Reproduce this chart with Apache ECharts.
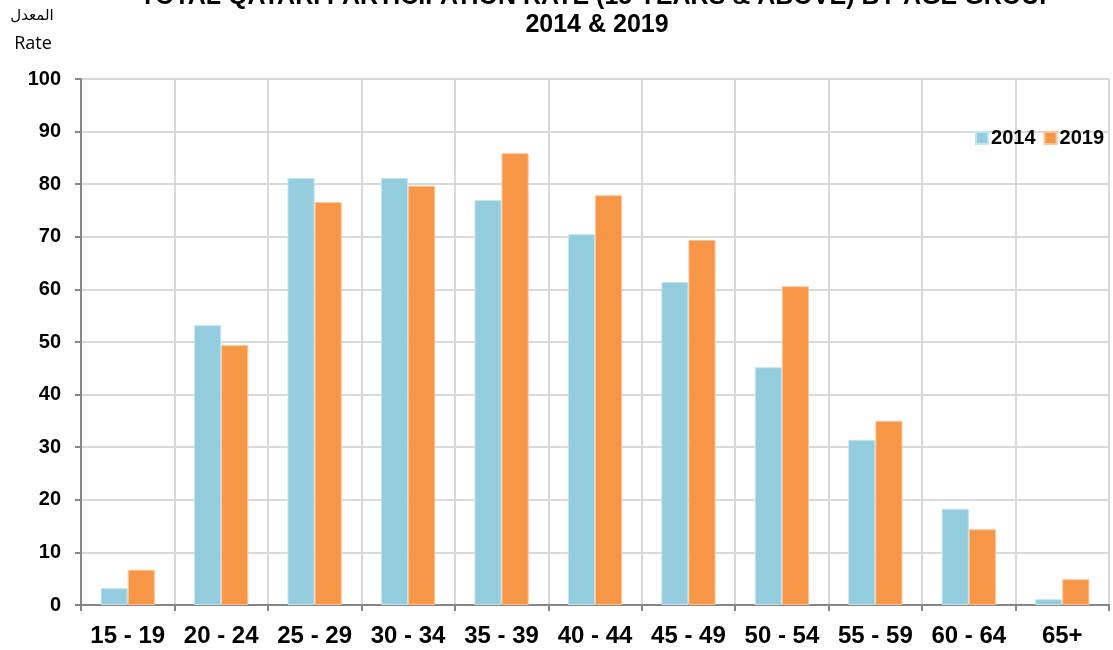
<!DOCTYPE html>
<html>
<head>
<meta charset="utf-8">
<title>Qatari participation rate</title>
<script src="https://cdn.jsdelivr.net/npm/echarts@6/dist/echarts.min.js"></script>
<style>
  html, body { margin: 0; padding: 0; background: #fff; }
  #chart { width: 1113px; height: 650px; }
</style>
</head>
<body>
<div id="chart"></div>
<script>
// data
var ageGroups = ['15 - 19', '20 - 24', '25 - 29', '30 - 34', '35 - 39', '40 - 44', '45 - 49', '50 - 54', '55 - 59', '60 - 64', '65+'];
var rate2014 = [3.2, 53.2, 81.2, 81.2, 77.0, 70.5, 61.4, 45.2, 31.4, 18.3, 1.1];
var rate2019 = [6.7, 49.4, 76.6, 79.7, 85.9, 77.9, 69.4, 60.6, 35.0, 14.4, 4.9];
var yTicks = [0, 10, 20, 30, 40, 50, 60, 70, 80, 90, 100];

var chart = echarts.init(document.getElementById('chart'));
var font = 'Liberation Sans, Arial, sans-serif';

var option = {
  animation: false,
  graphic: [
    { type: 'text', x: 598, y: -3, style: { text: 'TOTAL QATARI PARTICIPATION RATE (15 YEARS & ABOVE) BY AGE GROUP', font: 'bold 25px ' + font, fill: '#000', align: 'center', verticalAlign: 'middle' } },
    { type: 'text', x: 597, y: 25, style: { text: '2014 & 2019', font: 'bold 25px ' + font, fill: '#000', align: 'center', verticalAlign: 'middle' } },
    { type: 'text', x: 32, y: 16, style: { text: 'المعدل', font: '15px "DejaVu Sans", sans-serif', fill: '#000', align: 'center', verticalAlign: 'middle' } },
    { type: 'text', x: 33, y: 44, style: { text: 'Rate', font: '18px "Open Sans", ' + font, fill: '#000', align: 'center', verticalAlign: 'middle' } }
  ],
  legend: {
    right: 4, top: 123,
    itemWidth: 12, itemHeight: 12, itemGap: 8,
    icon: 'rect',
    textStyle: { fontFamily: font, fontWeight: 'bold', fontSize: 20, color: '#000', padding: [0, 0, 0, -2] },
    data: ['2014', '2019']
  },
  grid: { left: 81, right: 4, top: 79, bottom: 45, containLabel: false },
  xAxis: {
    type: 'category',
    data: ageGroups,
    axisLine: { lineStyle: { color: '#868686', width: 2 } },
    axisTick: { show: true, interval: 0, length: 6, lineStyle: { color: '#868686', width: 2 } },
    splitLine: { show: true, interval: 0, lineStyle: { color: '#d9d9d9', width: 2 } },
    axisLabel: { interval: 0, hideOverlap: false, margin: 19, fontFamily: font, fontWeight: 'bold', fontSize: 24, color: '#000' }
  },
  yAxis: {
    type: 'value',
    min: 0, max: 100, interval: 10,
    axisLine: { show: true, lineStyle: { color: '#868686', width: 2 } },
    axisTick: { show: true, length: 6, lineStyle: { color: '#868686', width: 2 } },
    splitLine: { lineStyle: { color: '#d9d9d9', width: 2 } },
    axisLabel: {
      margin: 20, fontFamily: font, fontWeight: 'bold', fontSize: 20, color: '#000',
      formatter: function (v) { return yTicks.indexOf(v) >= 0 ? String(v) : ''; }
    }
  },
  series: [
    { name: '2014', type: 'bar', data: rate2014, barGap: '0%', barCategoryGap: '42%',
      itemStyle: { color: '#93cddd', borderColor: '#c4e4ee', borderWidth: 1 } },
    { name: '2019', type: 'bar', data: rate2019,
      itemStyle: { color: '#f79646', borderColor: '#fbc49a', borderWidth: 1 } }
  ]
};
chart.setOption(option);
</script>
</body>
</html>
